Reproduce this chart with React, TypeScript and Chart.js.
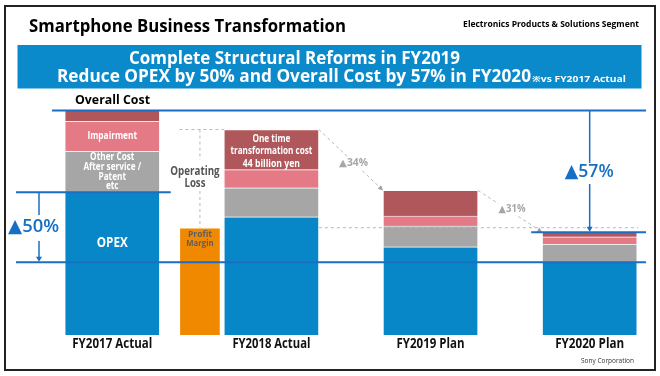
import React, { useEffect, useRef } from 'react';
import { Chart, registerables } from 'chart.js';

Chart.register(...registerables);

// ---------- data (billion yen) ----------
const categories = ['FY2017 Actual', 'FY2018 Actual', 'FY2019 Plan', 'FY2020 Plan'];
const opex = [157, 130, 97, 80];
const otherCost = [45, 32, 23, 20];
const impairment = [33, 20, 11, 8];
const oneTimeCost = [12, 44, 28, 5];
const profitMargin = [118]; // FY2018 Actual only
const stepLabels = ['▲34%', '▲31%'];
const opexReductionLabel = '▲50%';
const totalReductionLabel = '▲57%';

// ---------- styling / layout ----------
const FONT = '"Open Sans", "Noto Sans", "DejaVu Sans", sans-serif';
const C_BLUE = '#0787c7';
const C_GRAY = '#a6a6a6';
const C_PINK = '#e47a86';
const C_DRED = '#af575b';
const C_ORANGE = '#f08800';
const C_LINE = '#1b6ec2';
const C_DASH = '#b8b8b8';
const BAR_W = 95;
const MARGIN_W = 41;
const MARGIN_OFFSET = -0.449;
const X_MIN = -0.7054;
const X_MAX = 3.4419;
const Y_MAX = 368.5;

function fitFont(ctx: CanvasRenderingContext2D, text: string, target: number, weight: string | number) {
  ctx.font = `${weight} 100px ${FONT}`;
  const w = ctx.measureText(text).width;
  return `${weight} ${((100 * target) / w).toFixed(2)}px ${FONT}`;
}

function txt(
  ctx: CanvasRenderingContext2D,
  text: string,
  x: number,
  y: number,
  font: string,
  color: string,
  align: CanvasTextAlign = 'center',
  baseline: CanvasTextBaseline = 'middle'
) {
  ctx.font = font;
  ctx.fillStyle = color;
  ctx.textAlign = align;
  ctx.textBaseline = baseline;
  ctx.fillText(text, x, y);
}

// text at a given size, squeezed horizontally to a target width
function sq(
  ctx: CanvasRenderingContext2D,
  text: string,
  x: number,
  y: number,
  size: number,
  weight: string | number,
  width: number,
  color: string,
  align: CanvasTextAlign = 'center',
  baseline: CanvasTextBaseline = 'middle'
) {
  ctx.save();
  ctx.font = `${weight} ${size}px ${FONT}`;
  const w = ctx.measureText(text).width;
  const sx = width / w;
  ctx.translate(x, y);
  ctx.scale(sx, 1);
  ctx.fillStyle = color;
  ctx.textAlign = align;
  ctx.textBaseline = baseline;
  ctx.fillText(text, 0, 0);
  ctx.restore();
  return sx;
}

function line(ctx: CanvasRenderingContext2D, x1: number, y1: number, x2: number, y2: number, color: string, w: number, dash: number[] = []) {
  ctx.beginPath();
  ctx.setLineDash(dash);
  ctx.strokeStyle = color;
  ctx.lineWidth = w;
  ctx.moveTo(x1, y1);
  ctx.lineTo(x2, y2);
  ctx.stroke();
  ctx.setLineDash([]);
}

function arrowHead(ctx: CanvasRenderingContext2D, x1: number, y1: number, x2: number, y2: number, len: number, hw: number, color: string) {
  const a = Math.atan2(y2 - y1, x2 - x1);
  const bx = x2 - len * Math.cos(a);
  const by = y2 - len * Math.sin(a);
  ctx.beginPath();
  ctx.fillStyle = color;
  ctx.moveTo(x2, y2);
  ctx.lineTo(bx + hw * Math.sin(a), by - hw * Math.cos(a));
  ctx.lineTo(bx - hw * Math.sin(a), by + hw * Math.cos(a));
  ctx.closePath();
  ctx.fill();
}

const overlay = {
  id: 'overlay',
  beforeDraw(chart: any) {
    const ctx = chart.ctx as CanvasRenderingContext2D;
    ctx.save();
    ctx.fillStyle = '#ffffff';
    ctx.fillRect(0, 0, chart.width, chart.height);
    ctx.restore();
  },
  afterDatasetsDraw(chart: any) {
    const ctx = chart.ctx as CanvasRenderingContext2D;
    const X = (v: number) => chart.scales.x.getPixelForValue(v);
    const Y = (v: number) => chart.scales.y.getPixelForValue(v);
    const tot = categories.map((_, i) => opex[i] + otherCost[i] + impairment[i] + oneTimeCost[i]);
    const half = BAR_W / 2;
    ctx.save();

    // frame
    ctx.strokeStyle = '#222';
    ctx.lineWidth = 2;
    ctx.strokeRect(5, 6, 650, 364);

    // title
    sq(ctx, 'Smartphone Business Transformation', 29, 31.7, 17.4, 'bold', 317, '#000', 'left', 'alphabetic');
    txt(ctx, 'Electronics Products & Solutions Segment', 639, 24.5, fitFont(ctx, 'Electronics Products & Solutions Segment', 176, 'bold'), '#000', 'right', 'middle');

    // banner
    ctx.fillStyle = '#0a8acb';
    ctx.fillRect(17.5, 45, 624, 43.5);
    const l1 = 'Complete Structural Reforms in FY2019';
    const l2 = 'Reduce OPEX by 50% and Overall Cost by 57% in FY2020';
    sq(ctx, l1, 129, 64, 18.4, 'bold', 331, '#fff', 'left', 'alphabetic');
    sq(ctx, l2, 57, 82.3, 18.6, 'bold', 474, '#fff', 'left', 'alphabetic');
    sq(ctx, '※vs FY2017 Actual', 532, 82, 9.5, 'bold', 94, '#fff', 'left', 'alphabetic');

    // "Overall Cost"
    sq(ctx, 'Overall Cost', 75, 104.3, 12, 'bold', 75, '#000', 'left', 'alphabetic');

    // category labels
    const catW = [80, 78, 68, 69];
    categories.forEach((c, i) => sq(ctx, c, X(i), 344.5, 13.5, 'bold', catW[i], '#111'));
    sq(ctx, 'Sony Corporation', 634, 361, 7.5, 'normal', 53, '#333', 'right');

    // in-bar labels FY2017
    const pinkMid0 = (Y(opex[0] + otherCost[0]) + Y(opex[0] + otherCost[0] + impairment[0])) / 2;
    sq(ctx, 'Impairment', X(0), pinkMid0, 10, 'bold', 49.6, '#fff');
    const otherLines = ['Other Cost', 'After service /', 'Patent', 'etc'];
    const grayMid0 = (Y(opex[0]) + Y(opex[0] + otherCost[0])) / 2;
    ctx.font = `bold 10px ${FONT}`;
    const otherSx = 57.7 / ctx.measureText('After service /').width;
    otherLines.forEach((s, k) => {
      ctx.font = `bold 10px ${FONT}`;
      const w = ctx.measureText(s).width * otherSx;
      sq(ctx, s, X(0), grayMid0 + (k - 1.5) * 9.7, 10, 'bold', w, '#fff');
    });
    sq(ctx, 'OPEX', X(0), Y(opex[0]) + 50.5, 14, 'bold', 31, '#fff');

    // FY2018 one-time cost
    const otLines = ['One time', 'transformation cost', '44 billion yen'];
    const otW = [38, 82, 57.3];
    const drMid1 = (Y(tot[1]) + Y(tot[1] - oneTimeCost[1])) / 2 + 2;
    otLines.forEach((s, k) => sq(ctx, s, X(1), drMid1 + (k - 1) * 12.3, 10, 'bold', otW[k], '#fff'));

    // profit margin labels
    const xm = X(1 + MARGIN_OFFSET);
    sq(ctx, 'Profit', xm, Y(profitMargin[0]) + 6.5, 8.8, 'bold', 24, '#5e5e5e');
    sq(ctx, 'Margin', xm, Y(profitMargin[0]) + 15.5, 8.8, 'bold', 27.3, '#5e5e5e');

    // operating loss dashed guides
    const yTop1 = Y(tot[1]);
    const yPm = Y(profitMargin[0]);
    line(ctx, xm - MARGIN_W / 2, yTop1, X(1) - half, yTop1, C_DASH, 1, [3, 3]);
    line(ctx, xm, yTop1, xm, 160, C_DASH, 1, [3, 3]);
    line(ctx, xm, 191, xm, yPm, C_DASH, 1, [3, 3]);
    line(ctx, X(1) + half, yPm, 638, yPm, C_DASH, 1, [3, 3]);
    const olMid = (yTop1 + yPm) / 2 - 1;
    sq(ctx, 'Operating', xm - 5, olMid - 5.8, 11.8, 'bold', 49.3, '#555555');
    sq(ctx, 'Loss', xm - 5, olMid + 5.8, 11.8, 'bold', 21, '#555555');

    // step-down dashed arrows
    const offs = [[2.5, 3.3], [2, -2.2]];
    const stepW = [29, 27];
    for (let i = 1; i <= 2; i++) {
      const x1 = X(i) + half, y1 = Y(tot[i]);
      const x2 = X(i + 1) - half, y2 = Y(tot[i + 1]);
      line(ctx, x1, y1, x2 - 1, y2 - 1, C_DASH, 1, [3, 3]);
      arrowHead(ctx, x1, y1, x2, y2, 5, 2.5, '#a0a0a0');
      const tx = (x1 + x2) / 2 + offs[i - 1][0];
      const ty = (y1 + y2) / 2 + offs[i - 1][1];
      const w = stepW[i - 1];
      ctx.fillStyle = '#fff';
      ctx.fillRect(tx - w / 2 - 1, ty - 6, w + 2, 12);
      sq(ctx, stepLabels[i - 1], tx, ty, 9.8, 'bold', w, C_GRAY);
    }

    // blue reference lines
    const yTot0 = Y(tot[0]);
    const yOpex0 = Y(opex[0]);
    const yOpex3 = Y(opex[3]);
    const yTot3 = Y(tot[3]);
    line(ctx, 52, yTot0, 646, yTot0, C_LINE, 2);
    line(ctx, 16, yOpex0, X(0) + half + 11, yOpex0, C_LINE, 2);
    line(ctx, 16, yOpex3, 646, yOpex3, C_LINE, 2);
    line(ctx, X(3) - half - 11, yTot3, 646, yTot3, C_LINE, 2);

    // ▲50% arrow
    const ax = 39;
    line(ctx, ax, yOpex0, ax, 215, C_LINE, 1.5);
    line(ctx, ax, 241, ax, yOpex3 - 3, C_LINE, 1.5);
    arrowHead(ctx, ax, 241, ax, yOpex3 - 0.5, 5, 3, C_LINE);
    sq(ctx, opexReductionLabel, 33.5, 227, 18.5, 600, 51, '#1570c5');

    // ▲57% arrow
    const bx = X(3);
    line(ctx, bx, yTot0, bx, 163, C_LINE, 1.5);
    line(ctx, bx, 184, bx, yTot3 - 3, C_LINE, 1.5);
    arrowHead(ctx, bx, 184, bx, yTot3 - 0.5, 5, 3, C_LINE);
    sq(ctx, totalReductionLabel, bx - 0.5, 172, 18.5, 600, 49, '#1570c5');

    ctx.restore();
  },
};

export default function App() {
  const ref = useRef<HTMLCanvasElement>(null);
  useEffect(() => {
    const canvas = ref.current;
    if (!canvas) return;
    const pts = (arr: number[]) => arr.map((v, i) => ({ x: i, y: v }));
    const border = 'rgba(255,255,255,0.35)';
    const chart = new Chart(canvas, {
      type: 'bar',
      data: {
        datasets: [
          { label: 'OPEX', data: pts(opex), backgroundColor: C_BLUE, borderColor: border, borderWidth: 1, barThickness: BAR_W, stack: 'cost' },
          { label: 'Other Cost', data: pts(otherCost), backgroundColor: C_GRAY, borderColor: border, borderWidth: 1, barThickness: BAR_W, stack: 'cost' },
          { label: 'Impairment', data: pts(impairment), backgroundColor: C_PINK, borderColor: border, borderWidth: 1, barThickness: BAR_W, stack: 'cost' },
          { label: 'One time cost', data: pts(oneTimeCost), backgroundColor: C_DRED, borderColor: border, borderWidth: 1, barThickness: BAR_W, stack: 'cost' },
          {
            label: 'Profit Margin',
            data: profitMargin.map((v) => ({ x: 1 + MARGIN_OFFSET, y: v })),
            backgroundColor: C_ORANGE,
            borderColor: border,
            borderWidth: 1,
            barThickness: MARGIN_W,
            stack: 'margin',
          },
        ] as any,
      },
      options: {
        animation: false,
        responsive: false,
        devicePixelRatio: 1,
        events: [],
        layout: { padding: { left: 0, right: 0, top: 0, bottom: 41 } },
        datasets: { bar: { grouped: false } } as any,
        plugins: { legend: { display: false }, tooltip: { enabled: false } },
        scales: {
          x: { type: 'linear', display: false, min: X_MIN, max: X_MAX, offset: false },
          y: { type: 'linear', display: false, min: 0, max: Y_MAX, stacked: true },
        },
      } as any,
      plugins: [overlay],
    });
    return () => chart.destroy();
  }, []);
  return (
    <div style={{ position: 'fixed', left: 0, top: 0, width: 660, height: 376, background: '#fff' }}>
      <canvas ref={ref} width={660} height={376} style={{ display: 'block', width: 660, height: 376 }} />
    </div>
  );
}
